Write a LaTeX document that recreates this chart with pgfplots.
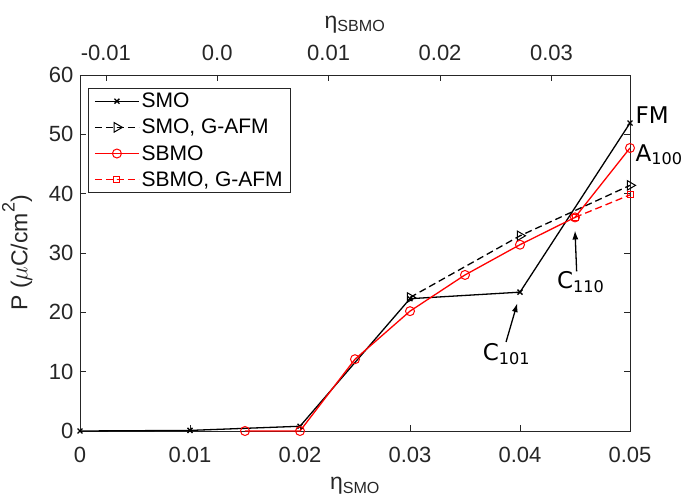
\documentclass[border=0pt]{standalone}
\usepackage{pgfplots}
\pgfplotsset{compat=1.18}
\usepackage{fontspec}
\setmainfont{Liberation Sans}
\newfontfamily\annfont{DejaVu Sans}
\usetikzlibrary{arrows.meta}
\definecolor{axgray}{rgb}{0.15,0.15,0.15}
\begin{document}
\begin{tikzpicture}
\pgfplotsset{
  every axis/.append style={
    /pgf/number format/assume math mode=true,
    scaled x ticks=false, scaled y ticks=false,
    tick label style={font=\fontsize{22}{25}\selectfont, text=axgray},
    label style={font=\fontsize{23}{27}\selectfont, text=axgray},
    axis line style={axgray, line width=0.6pt},
    every tick/.style={axgray, line width=0.6pt},
    tick align=inside,
    major tick length=6pt,
  },
  every axis plot/.append style={
    legend image code/.code={\draw[mark repeat=2,mark phase=2] plot coordinates {(0pt,0pt) (22pt,0pt) (44pt,0pt)};}
  }
}
\begin{axis}[
  at={(0,0)}, anchor=south west,
  width=550pt, height=356pt, scale only axis,
  xmin=0, xmax=0.05, ymin=0, ymax=60,
  xtick={0,0.01,0.02,0.03,0.04,0.05},
  xticklabels={0,0.01,0.02,0.03,0.04,0.05},
  ytick={0,10,20,30,40,50,60},
  yticklabels={0,10,20,30,40,50,60},
  xtick pos=left, ytick pos=both,
  xticklabel shift=13pt,
  yticklabel shift=3pt,
  xlabel={η\textsubscript{SMO}},
  ylabel={P ($\mu$C/cm\raisebox{0.55em}{\fontsize{18}{20}\selectfont 2})},
  xlabel style={yshift=-7pt},
  ylabel style={yshift=10pt},
  clip=false,
  legend cell align=left,
  legend style={at={(0.0145,0.964)}, anchor=north west, draw=axgray, line width=0.6pt,
    font=\fontsize{21}{23}\selectfont, row sep=8pt, inner xsep=6pt, inner ysep=4pt,
    nodes={inner xsep=2pt, inner ysep=1pt}},
]
\addplot[black, line width=1.3pt, mark=x, mark size=3.5pt, mark options={solid}] coordinates {
  (0,0) (0.01,0.1) (0.02,0.8) (0.03,22.3) (0.04,23.4) (0.05,51.9)};
\addlegendentry{SMO}
\addplot[black, line width=1.3pt, dash pattern=on 7pt off 4pt, mark=triangle, mark size=5.5pt, mark options={solid, rotate=-90, line width=1pt}] coordinates {
  (0.03,22.5) (0.04,32.9) (0.05,41.4)};
\addlegendentry{SMO, G-AFM}
\addplot[red, line width=1.3pt, mark=o, mark size=4.5pt, mark options={solid, line width=1pt}] coordinates {
  (0.015,0) (0.02,0) (0.025,12.1) (0.03,20.2) (0.035,26.3) (0.04,31.4) (0.045,36.0) (0.05,47.7)};
\addlegendentry{SBMO}
\addplot[red, line width=1.3pt, dash pattern=on 7pt off 4pt, mark=square, mark size=3pt, mark options={solid, line width=1pt}] coordinates {
  (0.045,36.0) (0.05,39.8)};
\addlegendentry{SBMO, G-AFM}
\node[anchor=base west, inner sep=0pt, font=\annfont\fontsize{23}{26}\selectfont] at (axis cs:0.0505,51.8) {FM};
\node[anchor=base west, inner sep=0pt, font=\annfont\fontsize{23}{26}\selectfont] at (axis cs:0.0505,45.5) {A\textsubscript{100}};
\node[anchor=base west, inner sep=0pt, font=\annfont\fontsize{23}{26}\selectfont] at (axis cs:0.04336,24.0) {C\textsubscript{110}};
\node[anchor=base west, inner sep=0pt, font=\annfont\fontsize{23}{26}\selectfont] at (axis cs:0.03661,11.9) {C\textsubscript{101}};
\draw[black, line width=1.3pt, -{Latex[length=9pt,width=6pt]}] (axis cs:0.03873,15.0) -- (axis cs:0.03976,21.56);
\draw[black, line width=1.3pt, -{Latex[length=9pt,width=6pt]}] (axis cs:0.04515,26.9) -- (axis cs:0.0450,33.8);
\end{axis}
\begin{axis}[
  at={(0,0)}, anchor=south west,
  width=550pt, height=356pt, scale only axis,
  xmin=-0.01232, xmax=0.03705, ymin=0, ymax=60,
  axis x line*=top, axis y line=none,
  xtick={-0.01,0,0.01,0.02,0.03},
  xticklabels={-0.01,0.0,0.01,0.02,0.03},
  xticklabel shift=11pt,
  xlabel={η\textsubscript{SBMO}},
  xlabel style={yshift=5pt},
]
\end{axis}
\pgfresetboundingbox
\path (-80pt,-67pt) rectangle (605pt,431pt);
\end{tikzpicture}
\end{document}
